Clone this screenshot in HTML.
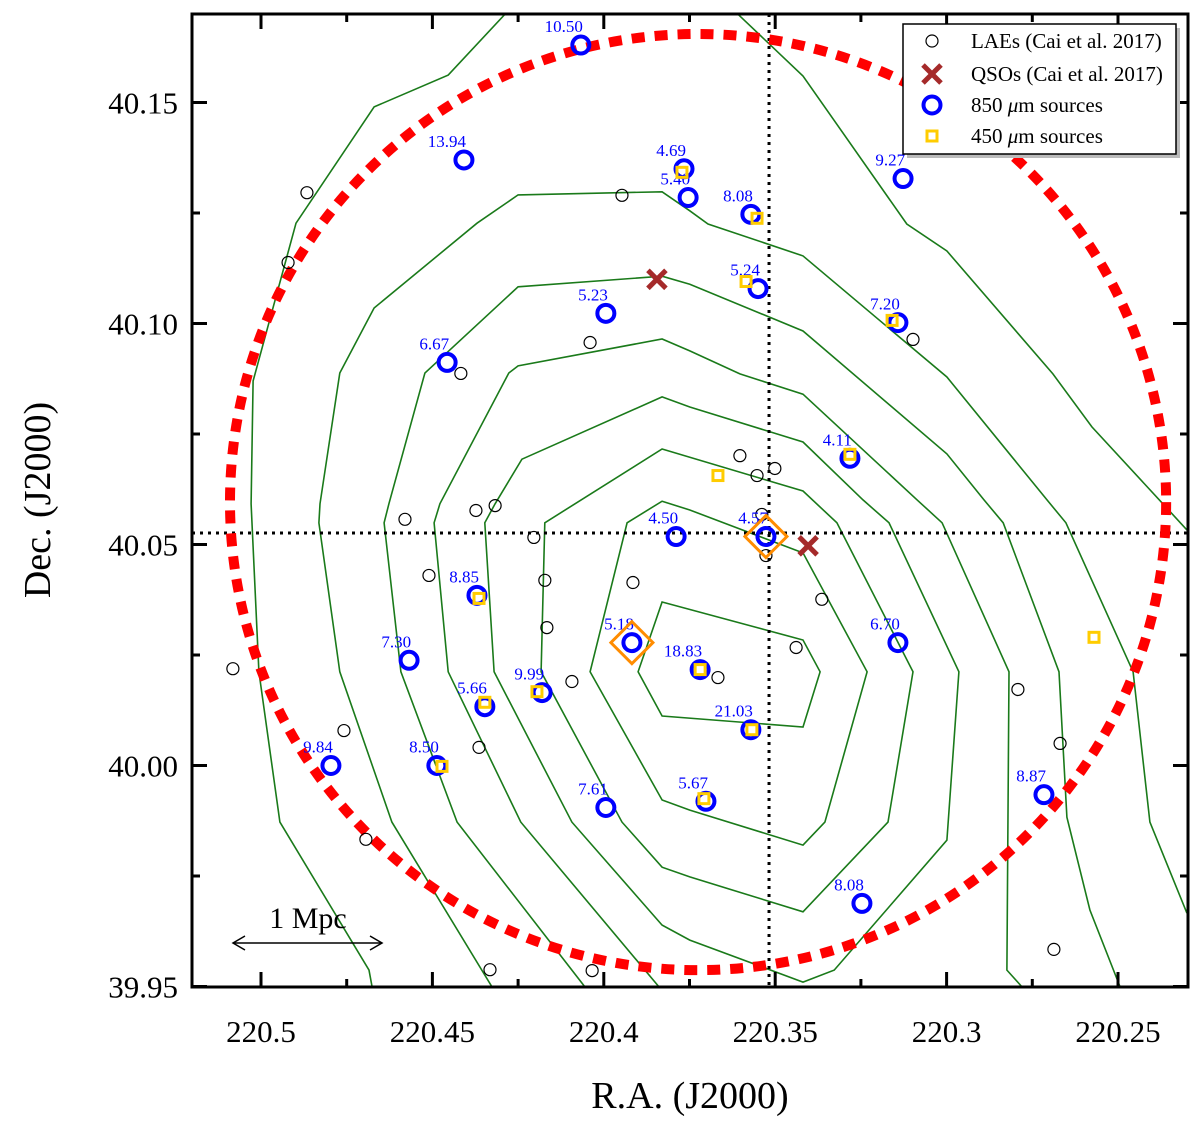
<!DOCTYPE html>
<html><head><meta charset="utf-8">
<style>
html,body{margin:0;padding:0;background:#fff;}
svg{display:block;font-family:"Liberation Serif",serif;}
</style></head>
<body>
<svg id="chart" width="1200" height="1129" viewBox="0 0 1200 1129" xmlns="http://www.w3.org/2000/svg">
<defs><clipPath id="plotclip"><rect x="192" y="14" width="996" height="973"/></clipPath></defs>
<rect x="0" y="0" width="1200" height="1129" fill="#fff"/>
<g id="contours" clip-path="url(#plotclip)"></g>
<g id="overlay" clip-path="url(#plotclip)"></g>
<g id="marks"></g>
<g id="axes"></g>
</svg>
<script>
// ---- axis ----
const xTickVals = [220.5, 220.45, 220.4, 220.35, 220.3, 220.25];
const xTickLabels = ["220.5", "220.45", "220.4", "220.35", "220.3", "220.25"];
const yTickVals = [40.15, 40.10, 40.05, 40.00, 39.95];
const yTickLabels = ["40.15", "40.10", "40.05", "40.00", "39.95"];

// ---- data ----
const laeRA = [220.4866,220.4921,220.3947,220.404,220.4417,220.458,220.4373,220.4317,220.4204,220.4172,220.4166,220.3915,220.3603,220.3553,220.3501,220.3539,220.3527,220.451,220.4093,220.3667,220.3439,220.3364,220.4364,220.4758,220.4694,220.4332,220.4034,220.5082,220.2792,220.2669,220.2687,220.3098];
const laeDec = [40.1296,40.1138,40.129,40.0957,40.0887,40.0557,40.0577,40.0588,40.0516,40.0419,40.0312,40.0414,40.0701,40.0656,40.0672,40.0568,40.0475,40.043,40.019,40.0199,40.0267,40.0376,40.0041,40.0079,39.9833,39.9538,39.9536,40.0219,40.0172,40.005,39.9584,40.0964];

const qsoRA = [220.3845, 220.3404];
const qsoDec = [40.110, 40.0497];

const s850RA = [220.4067,220.4408,220.3766,220.3754,220.3571,220.3127,220.355,220.3994,220.3142,220.4457,220.3282,220.3789,220.3527,220.437,220.3142,220.3918,220.3719,220.4568,220.418,220.4347,220.3571,220.4796,220.4487,220.3994,220.3702,220.2716,220.3247];
const s850Dec = [40.163,40.137,40.135,40.1285,40.1247,40.1328,40.1079,40.1023,40.1002,40.0912,40.0695,40.0518,40.0518,40.0385,40.0278,40.0278,40.0217,40.0238,40.0165,40.0133,40.0081,40.0,40.0,39.9905,39.9919,39.9934,39.9688];
const s850Flux = ["10.50","13.94","4.69","5.40","8.08","9.27","5.24","5.23","7.20","6.67","4.11","4.50","4.57","8.85","6.70","5.18","18.83","7.30","9.99","5.66","21.03","9.84","8.50","7.61","5.67","8.87","8.08"];

const s450RA = [220.3772,220.3553,220.3585,220.3159,220.3282,220.3667,220.4364,220.3719,220.4195,220.4347,220.3568,220.4472,220.3708,220.257];
const s450Dec = [40.1342,40.1238,40.1095,40.1007,40.0704,40.0656,40.0378,40.0217,40.0167,40.0143,40.0081,39.9998,39.9925,40.029];

const diamondRA = [220.3918, 220.3527];
const diamondDec = [40.0278, 40.0518];

const circleCenter = [220.3725, 40.0596];
const circleRadiusDec = 0.1059;
const crossRA = 220.3518;
const crossDec = 40.0526;

const contour1 = [[220.383,40.037],[220.3419,40.0284],[220.3369,40.0212],[220.3419,40.0087],[220.383,40.0112],[220.39,40.0212]];
const contour2 = [[220.383,40.0598],[220.3749,40.0578],[220.3419,40.0481],[220.3232,40.0212],[220.3355,39.9872],[220.3419,39.982],[220.3749,39.9899],[220.383,39.9922],[220.404,40.0212],[220.3932,40.0549]];
const contour3 = [[220.383,40.0716],[220.3419,40.0621],[220.332,40.0549],[220.3098,40.0212],[220.3171,39.9872],[220.3419,39.9669],[220.3749,39.9748],[220.383,39.977],[220.3947,39.9872],[220.4183,40.0212],[220.4172,40.0549],[220.4084,40.0592]];
const contour4 = [[220.383,40.0834],[220.3749,40.0811],[220.3419,40.0732],[220.3244,40.0601],[220.3168,40.0549],[220.2964,40.0212],[220.2999,39.9831],[220.3328,39.9537],[220.3419,39.951],[220.3749,39.9605],[220.383,39.9639],[220.4093,39.9872],[220.432,40.0212],[220.4347,40.0549],[220.4317,40.0592],[220.4239,40.0693]];
const contour5 = [[220.3839,39.9499],[220.4242,39.9872],[220.4454,40.0212],[220.4495,40.0549],[220.4478,40.0592],[220.4277,40.0888],[220.425,40.0904],[220.383,40.0965],[220.3749,40.0938],[220.3603,40.0886],[220.3419,40.084],[220.3086,40.0601],[220.3013,40.0549],[220.2818,40.0212],[220.2824,39.9537],[220.278,39.9499]];
const contour6 = [[220.4055,39.9499],[220.4428,39.9872],[220.4592,40.0212],[220.4641,40.0549],[220.4627,40.0592],[220.4522,40.0888],[220.425,40.1083],[220.383,40.1107],[220.3749,40.1089],[220.3419,40.0983],[220.2999,40.0705],[220.2891,40.0601],[220.2835,40.0549],[220.2672,40.0212],[220.2649,39.9883],[220.2582,39.9673],[220.2494,39.9499]];
const contour7 = [[220.4326,39.9499],[220.4618,39.9872],[220.477,40.0212],[220.4831,40.0549],[220.4828,40.0592],[220.477,40.0888],[220.467,40.1035],[220.437,40.1227],[220.425,40.1291],[220.383,40.1298],[220.3749,40.1255],[220.3696,40.1225],[220.3419,40.1153],[220.2999,40.0879],[220.2707,40.0601],[220.2652,40.0549],[220.2456,40.0212],[220.2407,39.9872],[220.2299,39.9666]];
const contour8 = [[220.4676,39.9499],[220.4685,39.9537],[220.4945,39.9872],[220.5006,40.0212],[220.5029,40.0592],[220.5023,40.087],[220.4898,40.1227],[220.467,40.149],[220.4454,40.1562],[220.4288,40.170]];
const contour9 = [[220.3609,40.170],[220.3419,40.156],[220.3116,40.1225],[220.2999,40.1164],[220.269,40.0886],[220.2576,40.0766],[220.2369,40.0592],[220.2299,40.0533]];

// ---- scales ----
const X0 = 261, XS = 3428, Y0 = 102.5, YS = 4420;
function xScale(ra){ return X0 + (220.5 - ra) * XS; }
function yScale(dec){ return Y0 + (40.15 - dec) * YS; }

const NS = "http://www.w3.org/2000/svg";
function mk(tag, attrs, parent){
  const e = document.createElementNS(NS, tag);
  for (const k in attrs) e.setAttribute(k, attrs[k]);
  parent.appendChild(e);
  return e;
}
const gC = document.getElementById('contours');
const gO = document.getElementById('overlay');
const gM = document.getElementById('marks');
const gA = document.getElementById('axes');

// contours
const closedContours = [contour1, contour2, contour3, contour4];
const openContours = [contour5, contour6, contour7, contour8, contour9];
closedContours.forEach(function(c, i){
  const p = mk('polygon', {points: c.map(v => xScale(v[0]).toFixed(1)+','+yScale(v[1]).toFixed(1)).join(' '), fill:'none', stroke:'#1a7a1a', 'stroke-width':1.6}, gC);
  
  
});
openContours.forEach(function(c, i){
  const p = mk('polyline', {points: c.map(v => xScale(v[0]).toFixed(1)+','+yScale(v[1]).toFixed(1)).join(' '), fill:'none', stroke:'#1a7a1a', 'stroke-width':1.6}, gC);
  
  
});

// crosshair dotted lines
const vl = mk('line', {x1:xScale(crossRA), x2:xScale(crossRA), y1:14, y2:987, stroke:'#000', 'stroke-width':3, 'stroke-dasharray':'3 5'}, gO);


const hl = mk('line', {x1:192, x2:1188, y1:yScale(crossDec), y2:yScale(crossDec), stroke:'#000', 'stroke-width':3, 'stroke-dasharray':'3 5'}, gO);



// red circle
const cyc = yScale(circleCenter[1]);
const ry = circleRadiusDec * YS;
const rc = mk('ellipse', {cx:xScale(circleCenter[0]), cy:cyc, rx:ry, ry:ry, fill:'none', stroke:'#ff0000', 'stroke-width':10, 'stroke-dasharray':'13 10'}, gO);



// LAEs
laeRA.forEach(function(ra, i){
  const c = mk('circle', {cx:xScale(ra), cy:yScale(laeDec[i]), r:6, fill:'none', stroke:'#000', 'stroke-width':1.2}, gM);
  
  
});

// 850 sources
s850RA.forEach(function(ra, i){
  const cx = xScale(ra), cy = yScale(s850Dec[i]);
  const c = mk('circle', {cx:cx, cy:cy, r:8.5, fill:'none', stroke:'#0000ff', 'stroke-width':4}, gM);
  
  
  const t = mk('text', {x:cx+2, y:cy-13, 'text-anchor':'end', 'font-size':17, fill:'#0000ff'}, gM);
  t.textContent = s850Flux[i];
  
  
});

// 450 sources
s450RA.forEach(function(ra, i){
  const cx = xScale(ra), cy = yScale(s450Dec[i]);
  const r = mk('rect', {x:cx-5, y:cy-5, width:10, height:10, fill:'none', stroke:'#ffcc00', 'stroke-width':3}, gM);
  
  
});

// QSOs
function drawX(cx, cy, s, parent){
  const g = mk('g', {}, parent);
  mk('line', {x1:cx-s, y1:cy-s, x2:cx+s, y2:cy+s, stroke:'#a52a2a', 'stroke-width':5}, g);
  mk('line', {x1:cx-s, y1:cy+s, x2:cx+s, y2:cy-s, stroke:'#a52a2a', 'stroke-width':5}, g);
  return g;
}
qsoRA.forEach(function(ra, i){
  const g = drawX(xScale(ra), yScale(qsoDec[i]), 9, gM);
  
  
});

// diamonds
diamondRA.forEach(function(ra, i){
  const cx = xScale(ra), cy = yScale(diamondDec[i]), s = 21;
  const d = mk('polygon', {points:[cx,cy-s,cx+s,cy,cx,cy+s,cx-s,cy].join(' '), fill:'none', stroke:'#ff8c00', 'stroke-width':3}, gM);
  
  
});

// ---- axes frame & ticks ----
const frame = mk('rect', {x:192, y:14, width:996, height:973, fill:'none', stroke:'#000', 'stroke-width':3}, gA);


for (let k = 0; k <= 11; k++){
  const v = 220.5 - k * 0.025;
  const x = xScale(v);
  if (x < 192 || x > 1188) continue;
  const len = (k % 2 === 0) ? 15 : 8;
  mk('line', {x1:x, x2:x, y1:987, y2:987-len, stroke:'#000', 'stroke-width':3}, gA);
  mk('line', {x1:x, x2:x, y1:14, y2:14+len, stroke:'#000', 'stroke-width':3}, gA);
}
for (let k = -1; k <= 8; k++){
  const v = 40.15 - k * 0.025;
  const y = yScale(v);
  if (y < 14 || y > 987) continue;
  const len = (k % 2 === 0) ? 15 : 8;
  mk('line', {x1:192, x2:192+len, y1:y, y2:y, stroke:'#000', 'stroke-width':3}, gA);
  mk('line', {x1:1188, x2:1188-len, y1:y, y2:y, stroke:'#000', 'stroke-width':3}, gA);
}
xTickVals.forEach(function(v, i){
  const t = mk('text', {x:xScale(v), y:1042, 'text-anchor':'middle', 'font-size':31, fill:'#000'}, gA);
  t.textContent = xTickLabels[i];
  
  
});
yTickVals.forEach(function(v, i){
  const t = mk('text', {x:178, y:yScale(v)+11, 'text-anchor':'end', 'font-size':31, fill:'#000'}, gA);
  t.textContent = yTickLabels[i];
  
  
});
</script>
<svg style="position:absolute;left:0;top:0" width="1200" height="1129">
  <text x="690" y="1108" text-anchor="middle" font-size="38" font-family="Liberation Serif, serif">R.A. (J2000)</text>
  <text transform="translate(50,500) rotate(-90)" text-anchor="middle" font-size="38" font-family="Liberation Serif, serif">Dec. (J2000)</text>
  <g>
    <text x="308" y="928" text-anchor="middle" font-size="30" font-family="Liberation Serif, serif">1 Mpc</text>
    <line x1="233" y1="943" x2="382" y2="943" stroke="#000" stroke-width="1.5"/>
    <polyline points="245,936 233,943 245,950" fill="none" stroke="#000" stroke-width="1.5"/>
    <polyline points="370,936 382,943 370,950" fill="none" stroke="#000" stroke-width="1.5"/>
  </g>
  <g font-family="Liberation Serif, serif" font-size="21">
    <rect x="907" y="28" width="273" height="130" fill="#bbb"/>
    <rect x="903" y="24" width="273" height="130" fill="#fff" stroke="#000" stroke-width="1.5"/>
    <g>
      <circle cx="932" cy="41" r="6" fill="none" stroke="#000" stroke-width="1.2"/>
      <text x="971" y="48">LAEs (Cai et al. 2017)</text>
    </g>
    <g>
      <line x1="923" y1="65" x2="941" y2="83" stroke="#a52a2a" stroke-width="5"/>
      <line x1="923" y1="83" x2="941" y2="65" stroke="#a52a2a" stroke-width="5"/>
      <text x="971" y="81">QSOs (Cai et al. 2017)</text>
    </g>
    <g>
      <circle cx="932" cy="105" r="8.5" fill="none" stroke="#0000ff" stroke-width="4"/>
      <text x="971" y="112">850 <tspan font-style="italic">μ</tspan>m sources</text>
    </g>
    <g>
      <rect x="927" y="131" width="10" height="10" fill="none" stroke="#ffcc00" stroke-width="3"/>
      <text x="971" y="143">450 <tspan font-style="italic">μ</tspan>m sources</text>
    </g>
  </g>
</svg>
</body></html>
